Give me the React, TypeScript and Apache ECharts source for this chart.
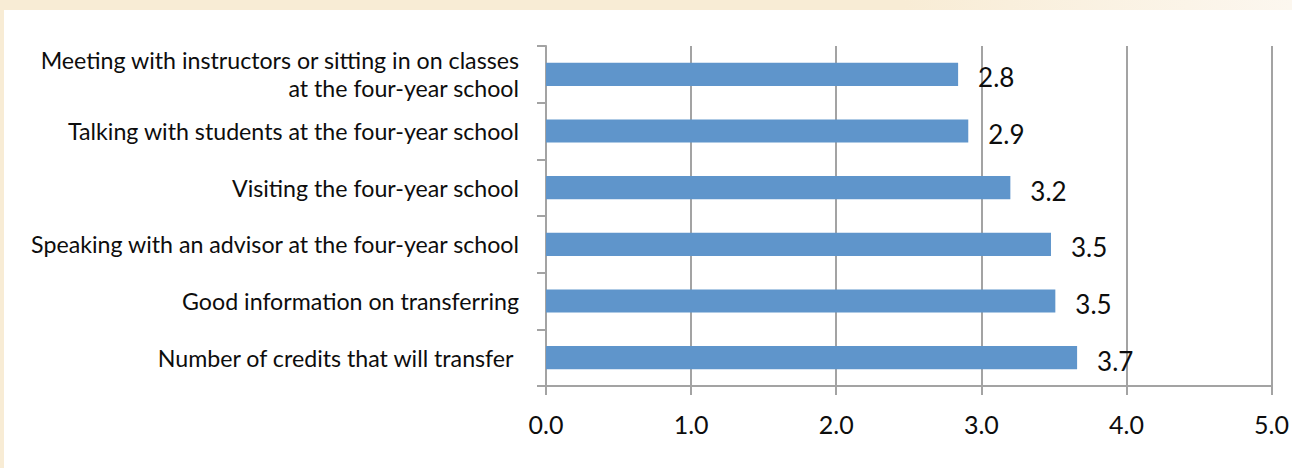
import React, { useEffect, useRef } from "react";
import * as echarts from "echarts";

const categories = [
  "Meeting with instructors or sitting in on classes\nat the four-year school",
  "Talking with students at the four-year school",
  "Visiting the four-year school",
  "Speaking with an advisor at the four-year school",
  "Good information on transferring",
  "Number of credits that will transfer ",
];
const values = [2.84, 2.91, 3.2, 3.48, 3.51, 3.66];
const valueLabels = ["2.8", "2.9", "3.2", "3.5", "3.5", "3.7"];
const xTicks = [0, 1, 2, 3, 4, 5];

export default function App() {
  const ref = useRef<HTMLDivElement>(null);
  useEffect(() => {
    if (!ref.current) return;
    const chart = echarts.init(ref.current, undefined, { renderer: "svg" });
    const gray = "#a3a3a3";
    chart.setOption({
      animation: false,
      backgroundColor: "#ffffff",
      grid: { left: 542, right: 20, top: 36, bottom: 82, containLabel: false },
      xAxis: {
        type: "value",
        min: 0,
        max: 5,
        interval: 1,
        axisLine: { show: true, lineStyle: { color: gray, width: 2 } },
        axisTick: { show: true, length: 9, lineStyle: { color: gray, width: 2 } },
        splitLine: { show: true, lineStyle: { color: gray, width: 2 } },
        axisLabel: {
          color: "#0d0d0d",
          fontFamily: "Lato",
          fontSize: 25,
          margin: 25,
          formatter: (v: number) => v.toFixed(1),
        },
        data: xTicks,
      },
      yAxis: {
        type: "category",
        inverse: true,
        data: categories,
        axisLine: { show: true, lineStyle: { color: gray, width: 2 } },
        axisTick: { show: true, length: 9, lineStyle: { color: gray, width: 2 } },
        axisLabel: {
          color: "#0d0d0d",
          fontFamily: "Lato",
          fontSize: 23.2,
          lineHeight: 28,
          margin: 27,
          align: "right",
        },
      },
      series: [
        {
          type: "bar",
          data: values,
          barWidth: "41%",
          itemStyle: { color: "#5f95cb" },
          label: {
            show: true,
            position: "right",
            distance: 20,
            offset: [0, 3],
            color: "#0d0d0d",
            fontFamily: "Lato",
            fontSize: 26,
            formatter: (p: any) => valueLabels[p.dataIndex],
          },
        },
      ],
    });
    return () => chart.dispose();
  }, []);
  return (
    <div
      style={{
        position: "fixed",
        left: 0,
        top: 0,
        width: 1292,
        height: 468,
        background: "linear-gradient(to right, #f8ecd5 0%, #f8ecd5 70%, #fcf7ef 100%)",
      }}
    >
      <div
        ref={ref}
        style={{ position: "absolute", left: 4, top: 10, width: 1288, height: 458, background: "#fff" }}
      />
    </div>
  );
}
